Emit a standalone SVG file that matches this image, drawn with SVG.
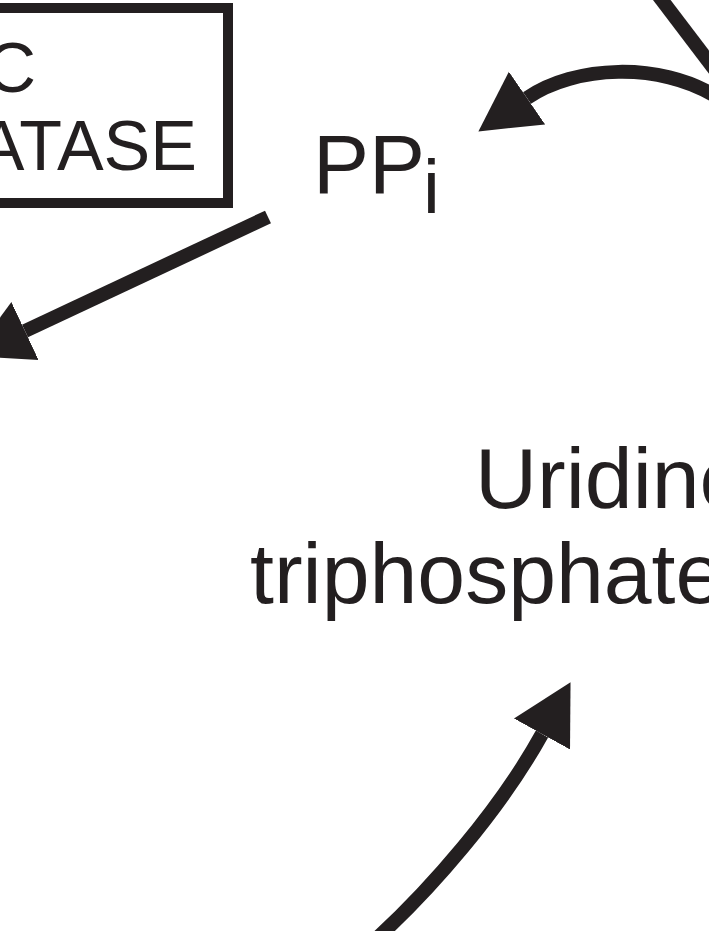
<svg xmlns="http://www.w3.org/2000/svg" width="709" height="931" viewBox="0 0 709 931">
  <style>
    .lbl { font-family: "Liberation Sans", Arial, Helvetica, sans-serif; fill: #231f20; }
    .conn { fill: none; stroke: #231f20; stroke-width: 14; stroke-linecap: butt; }
    .box { fill: #ffffff; stroke: #231f20; stroke-width: 10; }
  </style>
  <defs>
    <marker id="head" markerUnits="userSpaceOnUse" markerWidth="60" markerHeight="66" viewBox="0 0 60 66" refX="0" refY="33" orient="auto">
      <path d="M0,1 L59,33 L0,65 Z" fill="#231f20"/>
    </marker>
  </defs>
  <rect width="709" height="931" fill="#ffffff"/>

  <g id="enzyme">
    <rect class="box" x="-560" y="8" width="788" height="195"/>
    <text class="lbl" x="36" y="92" font-size="70" text-anchor="end">C</text>
    <text class="lbl" x="197" y="170" font-size="70" text-anchor="end">ATASE</text>
  </g>

  <g id="ppi">
    <text class="lbl" x="313" y="193" font-size="84">PP<tspan x="423" y="213" font-size="76">i</tspan></text>
  </g>

  <g id="utp">
    <text class="lbl" x="475" y="508" font-size="86">Uridine</text>
    <text class="lbl" x="250" y="603" font-size="86">triphosphate</text>
  </g>

  <g id="connectors">
    <line class="conn" x1="658" y1="-5" x2="718" y2="74"/>
    <path class="conn" d="M715,96 C660,62 575,65 527,98" marker-end="url(#head)"/>
    <line class="conn" x1="268" y1="217" x2="25" y2="331" marker-end="url(#head)"/>
    <path class="conn" d="M375,940 C430,890 500,810 542,734" marker-end="url(#head)"/>
  </g>
</svg>
